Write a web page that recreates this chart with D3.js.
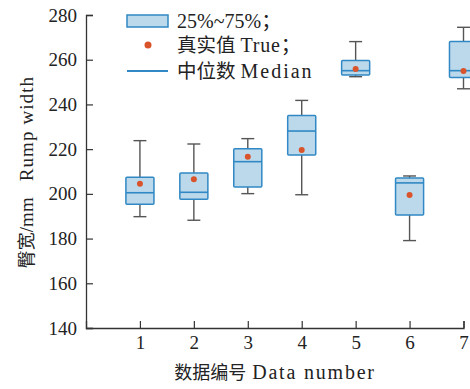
<!DOCTYPE html>
<html>
<head>
<meta charset="utf-8">
<script src="https://cdn.jsdelivr.net/npm/d3@7"></script>
<style>
  body { margin: 0; background: #fff; }
  text { font-family: "Liberation Serif", "Noto Sans CJK SC", serif; fill: #222; }
</style>
</head>
<body>
<svg id="chart" width="470" height="389"></svg>
<script>
// box stats
const ids     = [1, 2, 3, 4, 5, 6, 7];
const whiskLo = [189.8, 188.2, 200.1, 199.6, 252.4, 179.1, 247.0];
const q1      = [195.3, 197.6, 203.1, 217.4, 253.2, 190.5, 252.0];
const median  = [200.5, 200.7, 214.4, 228.1, 255.1, 204.9, 255.1];
const q3      = [207.4, 209.3, 220.2, 235.1, 259.6, 207.1, 268.1];
const whiskHi = [223.8, 222.3, 224.7, 241.8, 268.1, 208.0, 274.5];
const trueVal = [204.5, 206.5, 216.6, 219.6, 255.8, 199.5, 255.0];
const yTicks  = [140, 160, 180, 200, 220, 240, 260, 280];
// [chinese part, latin part]
const legendLabels = [["", "25%~75%；"], ["真实值", "True；"], ["中位数", "Median"]];

const boxes = ids.map((id, i) => ({
  id, lo: whiskLo[i], q1: q1[i], med: median[i], q3: q3[i], hi: whiskHi[i], t: trueVal[i]
}));

const svg = d3.select("#chart");
const x = d3.scaleLinear().domain([0, 7]).range([86, 463.5]);
const y = d3.scaleLinear().domain([140, 280]).range([328, 15]);

const blue = "#3088c4", fill = "#bcd9ec", red = "#d9542b", grey = "#555";
const bw = x(0.26) - x(0), cap = x(0.12) - x(0);

// axes, ticks pointing in
const yAxis = svg.append("g").attr("transform", `translate(${x(0)},0)`)
  .call(d3.axisLeft(y).tickValues(yTicks).tickSize(-7).tickPadding(9));
const xAxis = svg.append("g").attr("transform", `translate(0,${y(140)})`)
  .call(d3.axisBottom(x).tickValues(ids).tickFormat(d3.format("d")).tickSize(-7).tickPadding(4));
[yAxis, xAxis].forEach(a => {
  a.select(".domain").attr("stroke", "#333").attr("stroke-width", 1.3);
  a.selectAll(".tick line").attr("stroke", "#333").attr("stroke-width", 1.2);
  a.selectAll(".tick text").attr("font-size", 19).attr("fill", "#222")
    .style("font-family", '"Liberation Serif", serif');
});
xAxis.selectAll(".tick text").attr("dy", "0.9em");

const g = svg.append("g").selectAll("g").data(boxes).join("g");

g.append("line")
  .attr("x1", d => x(d.id)).attr("x2", d => x(d.id))
  .attr("y1", d => y(d.hi)).attr("y2", d => y(d.lo))
  .attr("stroke", grey).attr("stroke-width", 1.4);
g.selectAll("line.cap").data(d => [[d.id, d.hi], [d.id, d.lo]]).join("line")
  .attr("class", "cap")
  .attr("x1", d => x(d[0]) - cap).attr("x2", d => x(d[0]) + cap)
  .attr("y1", d => y(d[1])).attr("y2", d => y(d[1]))
  .attr("stroke", grey).attr("stroke-width", 1.4);
g.append("rect")
  .attr("x", d => x(d.id) - bw).attr("width", 2 * bw)
  .attr("y", d => y(d.q3)).attr("height", d => y(d.q1) - y(d.q3))
  .attr("fill", fill).attr("stroke", blue).attr("stroke-width", 1.5).attr("rx", 1);
g.append("line")
  .attr("x1", d => x(d.id) - bw).attr("x2", d => x(d.id) + bw)
  .attr("y1", d => y(d.med)).attr("y2", d => y(d.med))
  .attr("stroke", blue).attr("stroke-width", 1.6);
g.append("circle")
  .attr("cx", d => x(d.id)).attr("cy", d => y(d.t)).attr("r", 3)
  .attr("fill", red);

// legend
const lg = svg.append("g");
lg.append("rect").attr("x", 127).attr("y", 15).attr("width", 41).attr("height", 12)
  .attr("fill", fill).attr("stroke", blue).attr("stroke-width", 1.5);
lg.append("circle").attr("cx", 148).attr("cy", 45).attr("r", 3.5).attr("fill", red);
lg.append("line").attr("x1", 127).attr("x2", 168).attr("y1", 71).attr("y2", 71)
  .attr("stroke", blue).attr("stroke-width", 1.8);
const lt = lg.selectAll("text.lab").data(legendLabels).join("text")
  .attr("class", "lab")
  .attr("x", 177).attr("y", (d, i) => [28, 52, 78][i]);
lt.append("tspan").attr("font-size", 19.5).text(d => d[0]);
lt.append("tspan").attr("font-size", 20)
  .attr("letter-spacing", (d, i) => [0, 0.8, 2][i])
  .attr("dx", d => d[0] ? 5 : 0).text(d => d[1]);

// axis titles
const yt = svg.append("text")
  .attr("transform", "translate(33,172) rotate(-90)")
  .attr("text-anchor", "middle");
yt.append("tspan").attr("font-size", 18).text("臀宽");
yt.append("tspan").attr("font-size", 19).text("/mm");
yt.append("tspan").attr("font-size", 19).attr("dx", 16).attr("letter-spacing", 1.1).text("Rump width");

const xt = svg.append("text")
  .attr("x", 275).attr("y", 379)
  .attr("text-anchor", "middle");
xt.append("tspan").attr("font-size", 18).text("数据编号");
xt.append("tspan").attr("font-size", 20).attr("dx", 6).attr("letter-spacing", 1.8).text("Data number");
</script>
</body>
</html>
